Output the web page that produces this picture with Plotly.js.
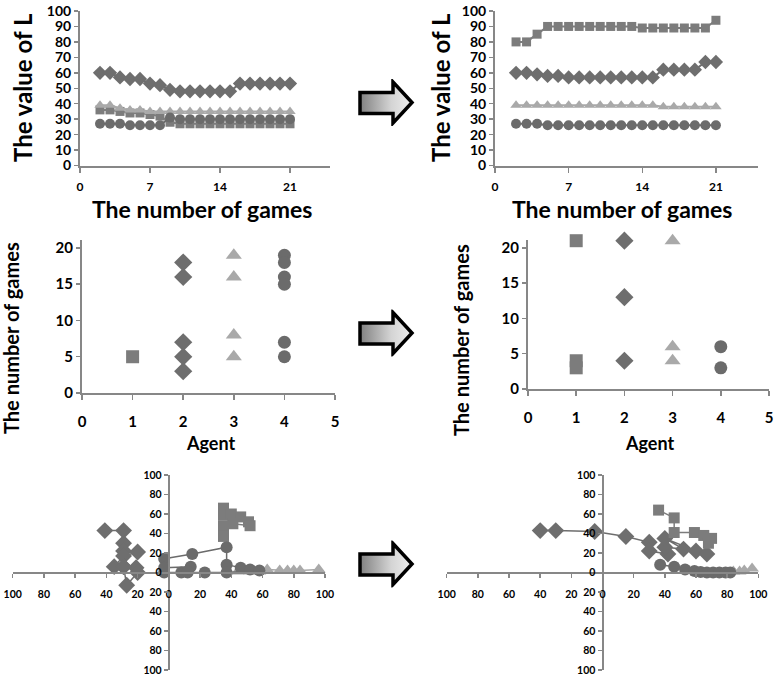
<!DOCTYPE html>
<html><head><meta charset="utf-8">
<script src="https://cdn.plot.ly/plotly-3.0.1.min.js"></script>
<style>html,body{margin:0;padding:0;background:#fff}#chart{width:775px;height:679px}</style>
</head><body><div id="chart"></div>
<script>
// ---------------- data ----------------
const games = [2,3,4,5,6,7,8,9,10,11,12,13,14,15,16,17,18,19,20,21];
const gameTicks = [0,7,14,21];

// top-left (before)
const beforeLDiamond  = [60,60,57,56,56,53,52,49,48,48,48,48,48,48,53,53,53,53,53,53];
const beforeLSquare   = [36,36,35,34,34,33,32,28,27,27,27,27,27,27,27,27,27,27,27,27];
const beforeLTriangle = [39,39,37,36,36,35,35,35,35,35,35,35,35,35,35,35,35,35,35,35];
const beforeLCircle   = [27,27,27,26,26,26,26,31,30,30,30,30,30,30,30,30,30,30,30,30];

// top-right (after)
const afterLSquare   = [80,80,85,90,90,90,90,90,90,90,90,90,89,89,89,89,89,89,89,94];
const afterLDiamond  = [60,60,59,58,58,57,57,57,57,57,57,57,57,57,62,62,62,62,67,67];
const afterLTriangle = [39,39,39,39,39,39,39,39,39,39,39,39,39,39,38,38,38,38,38,38];
const afterLCircle   = [27,27,27,26,26,26,26,26,26,26,26,26,26,26,26,26,26,26,26,26];

// middle-left (before): agent vs number of games
const beforeSquareAgent = [1];            const beforeSquareGames = [5];
const beforeDiamondAgent = [2,2,2,2,2];   const beforeDiamondGames = [18,16,7,5,3];
const beforeTriangleAgent = [3,3,3,3];    const beforeTriangleGames = [19,16,8,5];
const beforeCircleAgent = [4,4,4,4,4,4];  const beforeCircleGames = [19,18,16,15,7,5];

// middle-right (after)
const afterSquareAgent = [1,1,1];     const afterSquareGames = [21,4,3];
const afterDiamondAgent = [2,2,2];    const afterDiamondGames = [21,13,4];
const afterTriangleAgent = [3,3,3];   const afterTriangleGames = [21,6,4];
const afterCircleAgent = [4,4];       const afterCircleGames = [6,3];
const agentTicks = [0,1,2,3,4,5];

// bottom-left (before) trajectories
const bDiamondX = [-41,-29,-29,-29,-20,-29,-35,-29,-21,-20,-27,-29];
const bDiamondY = [43,43,30,22,21,17,6,6,5,0,-13,6];
const bSquareX = [35,35,40,46,51,52,41,35,35,35];
const bSquareY = [66,59,60,57,52,48,50,48,40,37];
const bTriangleX = [44,52,58,63,71,76,80,84,96];
const bTriangleY = [1,1,1,3,2,2,2,2,3];
const bCircleX = [-3,15,37,37,46,52,58,37,23,12,8,-3,-3,14,12];
const bCircleY = [14,19,26,8,5,3,2,0,0,0,0,0,5,6,1];

// bottom-right (after) trajectories
const aDiamondX = [-40,-30,-5,15,30,30,42,40,52,40,60,67];
const aDiamondY = [43,43,42,37,31,22,19,26,24,35,22,19];
const aSquareX = [36,46,46,59,65,70,68];
const aSquareY = [64,56,41,41,38,35,30];
const aTriangleX = [84,88,91,96];
const aTriangleY = [1,1,2,4];
const aCircleX = [37,46,53,59,63,67,71,75,79,82];
const aCircleY = [8,6,3,1.5,0.5,0,0,0,0,0];

const quadTicks = [-100,-80,-60,-40,-20,0,20,40,60,80,100];
const quadTickText = ['100','80','60','40','20','0','20','40','60','80','100'];

const titleL = 'The value of L';
const titleGames = 'The number of games';
const titleAgent = 'Agent';

// ---------------- styling ----------------
const W = 775, H = 679;
const px = v => v / W;
const py = v => 1 - v / H;
const C = {diamond:'#6e6e6e', square:'#7c7c7c', triangle:'#a9a9a9', circle:'#6b6b6b'};
const AX = '#878787';
const FONT = 'Lato, "Open Sans", sans-serif';

function ax(extra){
  return Object.assign({
    showgrid:false, zeroline:false, showline:true, linecolor:AX, linewidth:2,
    ticks:'outside', tickcolor:AX, tickwidth:1.5, ticklen:4,
    tickfont:{family:FONT, size:14, color:'#000', weight:'bold'},
    fixedrange:true
  }, extra);
}

function tr(x, y, sym, color, size, xa, ya, mode, lw){
  return {type:'scatter', x:x, y:y, xaxis:xa, yaxis:ya, mode:mode,
    cliponaxis:false, hoverinfo:'skip', showlegend:false,
    marker:{symbol:sym, color:color, size:size, line:{width:0}},
    line:{color:color, width:lw||2}};
}

const data = [
  tr(games, beforeLDiamond, 'diamond', C.diamond, 11, 'x', 'y', 'lines+markers'),
  tr(games, beforeLSquare, 'square', C.square, 9, 'x', 'y', 'lines+markers'),
  tr(games, beforeLTriangle, 'triangle-up', C.triangle, 10, 'x', 'y', 'lines+markers'),
  tr(games, beforeLCircle, 'circle', C.circle, 10, 'x', 'y', 'lines+markers'),

  tr(games, afterLSquare, 'square', C.square, 9, 'x2', 'y2', 'lines+markers'),
  tr(games, afterLDiamond, 'diamond', C.diamond, 11, 'x2', 'y2', 'lines+markers'),
  tr(games, afterLTriangle, 'triangle-up', C.triangle, 10, 'x2', 'y2', 'lines+markers'),
  tr(games, afterLCircle, 'circle', C.circle, 10, 'x2', 'y2', 'lines+markers'),

  tr(beforeSquareAgent, beforeSquareGames, 'square', C.square, 13, 'x3', 'y3', 'markers'),
  tr(beforeDiamondAgent, beforeDiamondGames, 'diamond', C.diamond, 14, 'x3', 'y3', 'markers'),
  tr(beforeTriangleAgent, beforeTriangleGames, 'triangle-up', C.triangle, 14, 'x3', 'y3', 'markers'),
  tr(beforeCircleAgent, beforeCircleGames, 'circle', C.circle, 13, 'x3', 'y3', 'markers'),

  tr(afterSquareAgent, afterSquareGames, 'square', C.square, 13, 'x4', 'y4', 'markers'),
  tr(afterDiamondAgent, afterDiamondGames, 'diamond', C.diamond, 14, 'x4', 'y4', 'markers'),
  tr(afterTriangleAgent, afterTriangleGames, 'triangle-up', C.triangle, 14, 'x4', 'y4', 'markers'),
  tr(afterCircleAgent, afterCircleGames, 'circle', C.circle, 13, 'x4', 'y4', 'markers'),

  tr(bDiamondX, bDiamondY, 'diamond', C.diamond, 13, 'x5', 'y5', 'lines+markers', 1.5),
  tr(bSquareX, bSquareY, 'square', C.square, 11, 'x5', 'y5', 'lines+markers', 1.5),
  tr(bTriangleX, bTriangleY, 'triangle-up', C.triangle, 12, 'x5', 'y5', 'lines+markers', 1.5),
  tr(bCircleX, bCircleY, 'circle', C.circle, 12, 'x5', 'y5', 'lines+markers', 1.5),

  tr(aDiamondX, aDiamondY, 'diamond', C.diamond, 13, 'x6', 'y6', 'lines+markers', 1.5),
  tr(aSquareX, aSquareY, 'square', C.square, 11, 'x6', 'y6', 'lines+markers', 1.5),
  tr(aTriangleX, aTriangleY, 'triangle-up', C.triangle, 12, 'x6', 'y6', 'lines+markers', 1.5),
  tr(aCircleX, aCircleY, 'circle', C.circle, 12, 'x6', 'y6', 'lines+markers', 1.5)
];

const topX = {range:[0,25], tickvals:gameTicks, ticklen:5, ticklabelstandoff:4,
  tickfont:{family:FONT, size:12, color:'#000', weight:'bold'}};
const topY = {range:[0,100], dtick:10, domain:[py(165.5), py(11)]};
const midX = {range:[0,5], tickvals:agentTicks, ticklen:5, ticklabelstandoff:9,
  tickfont:{family:FONT, size:15, color:'#000', weight:'bold'}};
const midY = {range:[0,21.1], tickvals:[0,5,10,15,20],
  tickfont:{family:FONT, size:15, color:'#000', weight:'bold'}};
const qX = {range:[-100,100], tickvals:quadTicks, ticktext:quadTickText, anchor:'free',
  position:py(572.5), ticklabelstandoff:8,
  tickfont:{family:FONT, size:10.5, color:'#000', weight:'bold'}};
const qY = {range:[-100,100], tickvals:quadTicks, ticktext:quadTickText, anchor:'free',
  domain:[py(670), py(475)],
  tickfont:{family:FONT, size:10.5, color:'#000', weight:'bold'}};

function ann(text, x, y, size, angle){
  return {text:text, xref:'paper', yref:'paper', x:px(x), y:py(y), showarrow:false,
    xanchor:'center', yanchor:'middle', textangle:angle||0,
    font:{family:FONT, size:size, color:'#000', weight:'bold'}};
}

function arrowSvg(){
  const s = '<svg xmlns="http://www.w3.org/2000/svg" width="58" height="47" viewBox="0 0 58 47">' +
    '<defs><linearGradient id="g" x1="0" y1="0" x2="1" y2="0">' +
    '<stop offset="0" stop-color="#808080"/><stop offset="0.6" stop-color="#d4d4d4"/><stop offset="1" stop-color="#eeeeee"/>' +
    '</linearGradient></defs>' +
    '<path d="M3,13.5 H36 V3 L55,23.5 L36,44 V34.5 H3 Z" fill="url(#g)" stroke="#000" stroke-width="3.5" stroke-linejoin="miter"/></svg>';
  return 'data:image/svg+xml;base64,' + btoa(s);
}
function arrowImg(cy){
  return {source:arrowSvg(), xref:'paper', yref:'paper', x:px(357), y:py(cy-23.5),
    sizex:58/W, sizey:47/H, xanchor:'left', yanchor:'top', sizing:'stretch', layer:'above'};
}

const layout = {
  width:W, height:H, margin:{l:0,r:0,t:0,b:0}, paper_bgcolor:'#fff', plot_bgcolor:'rgba(0,0,0,0)',
  showlegend:false, font:{family:FONT},
  xaxis: ax(Object.assign({domain:[px(80), px(330)], anchor:'y'}, topX)),
  yaxis: ax(Object.assign({anchor:'x'}, topY)),
  xaxis2: ax(Object.assign({domain:[px(495), px(758)], anchor:'y2'}, topX)),
  yaxis2: ax(Object.assign({anchor:'x2'}, topY)),
  xaxis3: ax(Object.assign({domain:[px(82), px(335)], anchor:'y3'}, midX)),
  yaxis3: ax(Object.assign({domain:[py(393), py(240)], anchor:'x3'}, midY)),
  xaxis4: ax(Object.assign({domain:[px(528), px(769)], anchor:'y4'}, midX)),
  yaxis4: ax(Object.assign({domain:[py(389), py(240)], anchor:'x4'}, midY)),
  xaxis5: ax(Object.assign({domain:[px(12.7), px(325)]}, qX)),
  yaxis5: ax(Object.assign({position:px(168.8)}, qY)),
  xaxis6: ax(Object.assign({domain:[px(446.7), px(758.3)]}, qX)),
  yaxis6: ax(Object.assign({position:px(602.5)}, qY)),
  annotations: [
    ann(titleL, 23, 88, 24, -90),
    ann(titleL, 441, 88, 24, -90),
    ann(titleGames, 202, 209, 23),
    ann(titleGames, 622, 209, 23),
    ann(titleGames, 11, 338, 20, -90),
    ann(titleGames, 461, 340, 20, -90),
    ann(titleAgent, 210, 443, 18),
    ann(titleAgent, 649, 443, 18)
  ],
  images: [arrowImg(102.5), arrowImg(333), arrowImg(564)]
};

Plotly.newPlot('chart', data, layout, {displayModeBar:false, staticPlot:true});
</script></body></html>
